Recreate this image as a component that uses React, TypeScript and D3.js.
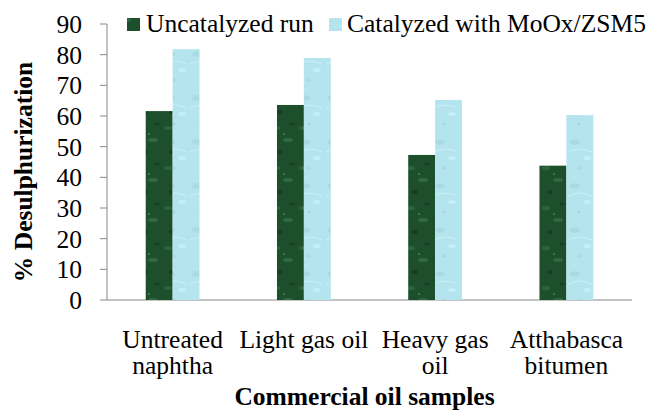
import React from "react";
import * as d3 from "d3";

const categories = [["Untreated", "naphtha"], ["Light gas oil"], ["Heavy gas", "oil"], ["Atthabasca", "bitumen"]];
const seriesNames = ["Uncatalyzed run", "Catalyzed with MoOx/ZSM5"];
const uncatalyzed = [61.6, 63.6, 47.3, 43.8];
const catalyzed = [81.8, 78.9, 65.2, 60.3];
const yTicks = [0, 10, 20, 30, 40, 50, 60, 70, 80, 90];

const W = 649, H = 410;
const left = 107, right = 632, top = 24, bottom = 300;
const font = "Liberation Serif";

export default function App() {
  const x0 = d3.scaleBand<number>().domain(d3.range(categories.length)).range([left, right]).paddingInner(0.59).paddingOuter(0.295);
  const x1 = d3.scaleBand<number>().domain([0, 1]).range([0, x0.bandwidth()]).padding(0);
  const y = d3.scaleLinear().domain([0, 90]).range([bottom, top]);
  const series = [uncatalyzed, catalyzed];
  const fills = ["url(#darkTex)", "url(#lightTex)"];
  const ts = { fontFamily: font, fontSize: "25.5px" } as React.CSSProperties;

  return (
    <svg width={W} height={H} style={{ position: "absolute", left: 0, top: 0 }}>
      <defs>
        <pattern id="darkTex" patternUnits="userSpaceOnUse" width="27" height="40">
          <rect width="27" height="40" fill="#1d4f2c" />
          <ellipse cx="6" cy="8" rx="4" ry="2" fill="#2f6a40" opacity="0.8" />
          <ellipse cx="18" cy="20" rx="5" ry="2" fill="#3a7a4c" opacity="0.6" />
          <ellipse cx="10" cy="32" rx="3" ry="2" fill="#123a1e" opacity="0.8" />
          <ellipse cx="22" cy="4" rx="3" ry="1.5" fill="#123a1e" opacity="0.7" />
          <circle cx="14" cy="14" r="1" fill="#5a9a6a" opacity="0.7" />
        </pattern>
        <pattern id="lightTex" patternUnits="userSpaceOnUse" width="27" height="44">
          <rect width="27" height="44" fill="#b4e4ee" />
          <ellipse cx="8" cy="10" rx="5" ry="3" fill="#a3d5e0" opacity="0.6" />
          <ellipse cx="20" cy="26" rx="4" ry="2" fill="#c9f0f6" opacity="0.8" />
          <circle cx="12" cy="36" r="1.5" fill="#9ccbd7" opacity="0.6" />
          <path d="M2,20 Q13,14 25,20" stroke="#c8eff5" strokeWidth="1.2" fill="none" />
        </pattern>
      </defs>
      <rect width={W} height={H} fill="#fff" />
      <line x1={left} x2={left} y1={y(90)} y2={bottom} stroke="#888" strokeWidth={1} />
      <line x1={left} x2={right} y1={bottom} y2={bottom} stroke="#888" strokeWidth={1} />
      {yTicks.map((t) => (
        <g key={t}>
          <line x1={left - 7} x2={left} y1={y(t)} y2={y(t)} stroke="#888" />
          <text x={82} y={y(t)} dy="0.35em" textAnchor="end" style={ts} fill="#000">{t}</text>
        </g>
      ))}
      {series.map((vals, si) =>
        vals.map((v, i) => (
          <rect key={`${si}-${i}`} x={(x0(i) as number) + (x1(si) as number)} y={y(v)} width={x1.bandwidth()} height={bottom - y(v)} fill={fills[si]} />
        ))
      )}
      {categories.map((lines, i) => (
        <text key={i} x={(x0(i) as number) + x0.bandwidth() / 2} y={348} textAnchor="middle" style={ts} fill="#000">
          {lines.map((l, j) => (
            <tspan key={j} x={(x0(i) as number) + x0.bandwidth() / 2} dy={j === 0 ? 0 : 26}>{l}</tspan>
          ))}
        </text>
      ))}
      <text x={(left + right) / 2 - 5} y={405} textAnchor="middle" style={{ ...ts, fontWeight: "bold" }}>Commercial oil samples</text>
      <text transform={`translate(32,${(top + bottom) / 2 + 10}) rotate(-90)`} textAnchor="middle" style={{ ...ts, fontWeight: "bold" }}>% Desulphurization</text>
      <rect x={127} y={18} width={13} height={13} fill={fills[0]} />
      <text x={146} y={32} style={ts}>{seriesNames[0]}</text>
      <rect x={329} y={18} width={13} height={13} fill={fills[1]} />
      <text x={347} y={32} style={ts}>{seriesNames[1]}</text>
    </svg>
  );
}
